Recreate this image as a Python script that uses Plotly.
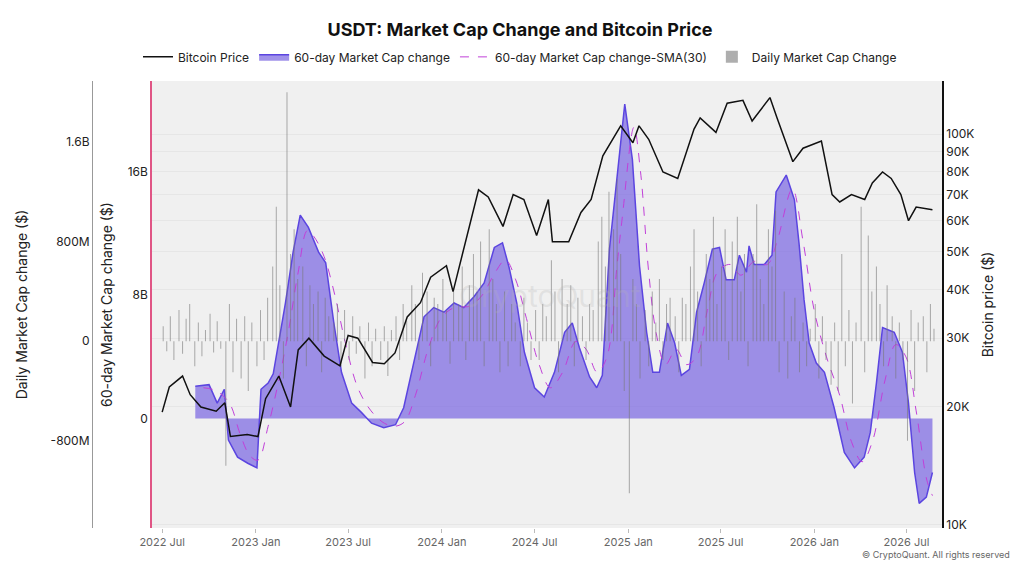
import pandas as pd
import plotly.graph_objects as go

# Bitcoin price (USD)
btc_dates = ["2022-07-01", "2022-07-15", "2022-08-10", "2022-08-25", "2022-09-15", "2022-10-15", "2022-11-01",
             "2022-11-12", "2022-12-15", "2023-01-05", "2023-01-20", "2023-02-15", "2023-03-10", "2023-03-25",
             "2023-04-15", "2023-05-15", "2023-06-15", "2023-07-01", "2023-07-20", "2023-08-18", "2023-09-10",
             "2023-10-01", "2023-10-25", "2023-11-20", "2023-12-10", "2024-01-10", "2024-01-23", "2024-02-15",
             "2024-03-13", "2024-04-01", "2024-04-30", "2024-05-20", "2024-06-10", "2024-07-05", "2024-07-28",
             "2024-08-05", "2024-09-06", "2024-09-30", "2024-10-20", "2024-11-12", "2024-12-17", "2025-01-10",
             "2025-01-22", "2025-02-10", "2025-03-10", "2025-04-08", "2025-05-10", "2025-05-22", "2025-06-22",
             "2025-07-14", "2025-08-14", "2025-09-01", "2025-10-06", "2025-10-20", "2025-11-20", "2025-12-10",
             "2026-01-15", "2026-02-05", "2026-02-20", "2026-03-15", "2026-04-10", "2026-04-25", "2026-05-15",
             "2026-06-01", "2026-06-20", "2026-07-05", "2026-07-20", "2026-08-21"]
btc_price = [19400, 22500, 24000, 21500, 20000, 19500, 20500,
             16800, 17000, 16800, 21000, 24000, 20000, 28000,
             30000, 27000, 25500, 30500, 30000, 26000, 25800,
             27500, 34000, 37000, 43000, 46000, 39500, 52000,
             72000, 69000, 58000, 70000, 68000, 55000, 68000,
             53000, 53000, 63000, 68000, 88000, 105000, 95000,
             105000, 97000, 80000, 77000, 103000, 110000, 101000,
             120000, 122000, 108000, 124000, 110000, 85000, 92000,
             96000, 70000, 67000, 70000, 68000, 75000, 80000,
             77000, 70000, 60000, 65000, 64000]

# 60-day market cap change (USD billions)
mc_dates = ["2022-09-04", "2022-10-01", "2022-10-17", "2022-10-31", "2022-11-08", "2022-11-26", "2022-12-16",
            "2023-01-03", "2023-01-11", "2023-01-25", "2023-02-04", "2023-02-14", "2023-02-28", "2023-03-15",
            "2023-03-29", "2023-04-14", "2023-05-04", "2023-05-18", "2023-06-03", "2023-06-18", "2023-07-08",
            "2023-07-27", "2023-08-16", "2023-09-09", "2023-10-02", "2023-10-18", "2023-11-07", "2023-11-27",
            "2023-12-16", "2024-01-05", "2024-01-25", "2024-02-13", "2024-03-04", "2024-03-24", "2024-04-13",
            "2024-04-29", "2024-05-12", "2024-05-27", "2024-06-11", "2024-07-01", "2024-07-20", "2024-08-09",
            "2024-08-29", "2024-09-13", "2024-09-27", "2024-10-17", "2024-10-31", "2024-11-11", "2024-11-25",
            "2024-12-15", "2024-12-25", "2025-01-09", "2025-01-23", "2025-02-06", "2025-02-18", "2025-03-03",
            "2025-03-19", "2025-04-02", "2025-04-15", "2025-05-01", "2025-05-15", "2025-05-30", "2025-06-15",
            "2025-06-29", "2025-07-12", "2025-07-28", "2025-08-07", "2025-08-21", "2025-08-26", "2025-09-05",
            "2025-09-25", "2025-10-10", "2025-10-18", "2025-11-07", "2025-11-23", "2025-12-02", "2025-12-12",
            "2025-12-22", "2026-01-05", "2026-01-21", "2026-02-09", "2026-03-01", "2026-03-21", "2026-04-09",
            "2026-04-21", "2026-05-03", "2026-05-15", "2026-06-07", "2026-06-23", "2026-07-05", "2026-07-17",
            "2026-07-26", "2026-08-09", "2026-08-21"]
mc_change = [2.1, 2.2, 1.0, 1.9, -1.4, -2.5, -2.9,
             -3.2, 1.9, 2.3, 2.9, 4.8, 7.5, 10.8,
             13.2, 12.4, 10.8, 10.1, 6.2, 3.0, 1.0,
             0.4, -0.3, -0.6, -0.4, 0.7, 3.6, 6.6,
             7.2, 6.9, 7.5, 7.2, 7.9, 8.8, 11.1,
             11.4, 9.8, 7.5, 4.3, 2.0, 1.4, 3.0,
             5.6, 6.2, 4.6, 2.7, 2.0, 2.8, 11.0,
             17.5, 20.4, 16.8, 9.9, 5.6, 3.0, 3.0,
             6.2, 4.9, 2.8, 3.2, 6.9, 8.8, 11.0,
             11.1, 9.0, 9.0, 10.6, 9.5, 11.2, 10.0,
             10.0, 10.6, 14.7, 15.8, 14.2, 11.4, 7.7,
             4.9, 3.6, 3.0, 0.7, -2.2, -3.2, -2.5,
             -0.9, 2.3, 5.9, 5.6, 4.3, 1.0, -3.5,
             -5.5, -5.1, -3.5]

# 60-day market cap change SMA(30) (USD billions)
sma_dates = ["2022-09-20", "2022-10-15", "2022-11-10", "2022-12-01", "2022-12-20", "2023-01-05", "2023-01-25",
             "2023-02-15", "2023-03-05", "2023-03-25", "2023-04-12", "2023-04-25", "2023-05-15", "2023-06-05",
             "2023-06-25", "2023-07-20", "2023-08-15", "2023-09-10", "2023-09-30", "2023-10-20", "2023-11-10",
             "2023-12-05", "2023-12-30", "2024-01-25", "2024-02-25", "2024-03-20", "2024-04-15", "2024-05-05",
             "2024-05-25", "2024-06-15", "2024-07-10", "2024-08-01", "2024-08-25", "2024-09-20", "2024-10-10",
             "2024-11-01", "2024-11-20", "2024-12-10", "2024-12-20", "2025-01-12", "2025-01-25", "2025-02-10",
             "2025-02-25", "2025-03-15", "2025-04-05", "2025-04-25", "2025-05-15", "2025-06-05", "2025-06-25",
             "2025-07-20", "2025-08-10", "2025-09-05", "2025-10-01", "2025-10-20", "2025-11-19", "2025-12-10",
             "2026-01-01", "2026-01-25", "2026-02-20", "2026-03-15", "2026-04-05", "2026-04-25", "2026-05-20",
             "2026-06-10", "2026-06-30", "2026-07-20", "2026-08-10", "2026-08-21"]
sma_change = [2.0, 1.8, 1.0, -1.0, -2.4, -2.7, -0.5,
              2.5, 5.5, 9.5, 12.2, 11.8, 10.5, 8.0,
              5.0, 2.0, 0.5, -0.3, -0.5, -0.2, 1.5,
              4.5, 6.5, 7.2, 7.3, 8.0, 9.5, 10.3,
              9.0, 6.5, 3.5, 2.0, 3.0, 5.0, 4.5,
              3.0, 4.0, 10.0, 13.0, 18.9, 16.0, 9.5,
              5.5, 3.5, 4.5, 3.5, 4.0, 7.0, 9.5,
              10.0, 9.3, 10.2, 10.0, 11.5, 14.9, 11.5,
              7.0, 4.0, 1.5, -1.5, -2.8, -1.5, 2.5,
              4.8, 4.0, 0.5, -4.0, -5.0]

# Daily market cap change (USD millions), four sample days per month
daily_months = pd.date_range("2022-07-01", "2026-08-01", freq="MS")
daily_days = [3, 10, 17, 24]
daily_values = [
    [120, -80, 200, -150], [250, -100, 180, 300], [-200, 150, -120, 90], [220, -90, 160, -60],
    [-1000, 300, -250, 180], [-300, 200, -400, 150],
    [-200, 250, -150, 350], [600, 1080, 450, -300], [2000, 700, 900, 500], [600, -200, 450, 300],
    [400, -250, 350, 200], [150, 300, -200, 250], [-150, 200, -100, 120], [-300, 150, -200, 100],
    [-150, 120, -280, 90], [200, -150, 300, 160], [450, 300, -150, 550], [400, -200, 350, 300],
    [500, 250, -180, 400], [300, 600, -150, 450], [700, 400, 800, -200], [900, 500, 300, -250],
    [400, -200, 300, 150], [-200, 350, 150, -150], [250, -150, 300, 200], [650, 400, -250, 500],
    [300, 450, -200, 350], [200, -150, 300, 250], [800, 1000, 600, 1200], [900, 1300, 700, -400],
    [-1220, 500, 300, -300], [250, -200, 400, 150], [500, -150, 300, 350], [200, -250, 350, 300],
    [600, 900, 400, -200], [700, 500, 1000, 300], [600, 900, -150, 800], [1000, 400, 700, -200],
    [700, 1100, 500, 300], [900, 600, 1050, -250], [400, -300, 200, 350], [-250, 150, -200, 100],
    [300, -300, 200, -150], [-350, 150, -400, 700], [-200, 250, -500, 150], [1080, -250, 850, 400],
    [600, 300, -200, 450], [200, -300, 150, -150], [-800, 250, -400, 150], [200, -250, 300, 100],
]
daily_dates = [m + pd.Timedelta(days=d - 1) for m, row in zip(daily_months, daily_values) for d in daily_days[:len(row)]]
daily_change = [v * 1e6 for row in daily_values for v in row]

font = "Inter, Roboto, sans-serif"
fig = go.Figure()

fig.add_trace(go.Scatter(x=pd.to_datetime(mc_dates), y=[v * 1e9 for v in mc_change], name="60-day Market Cap change",
                         mode="lines", line=dict(color="#5b45e0", width=1.5), fill="tozeroy",
                         fillcolor="rgba(120,100,225,0.7)", yaxis="y", legendrank=2))
fig.add_trace(go.Scatter(x=pd.to_datetime(sma_dates), y=[v * 1e9 for v in sma_change],
                         name="60-day Market Cap change-SMA(30)", mode="lines",
                         line=dict(color="#c040d8", width=1, dash="dash", shape="spline"), yaxis="y", legendrank=3))
fig.add_trace(go.Bar(x=daily_dates, y=daily_change, name="Daily Market Cap Change",
                     marker=dict(color="rgba(120,120,120,0.6)", line_width=0), width=86400000 * 2, yaxis="y2",
                     legendrank=4))
fig.add_trace(go.Scatter(x=pd.to_datetime(btc_dates), y=btc_price, name="Bitcoin Price", mode="lines",
                         line=dict(color="#111111", width=1.5), yaxis="y3", legendrank=1))

fig.update_layout(
    width=1024, height=576,
    margin=dict(l=20, r=20, t=73, b=56),
    paper_bgcolor="white", plot_bgcolor="#f0f0f0",
    font=dict(family=font, size=12, color="#222"),
    title=dict(text="<b>USDT: Market Cap Change and Bitcoin Price</b>", x=0.5, y=0.962, xanchor="center",
               yanchor="middle", font=dict(size=18, color="#111")),
    legend=dict(orientation="h", x=0.5, xanchor="center", y=1.054, yanchor="middle", itemwidth=30,
                font=dict(size=12), bgcolor="rgba(0,0,0,0)"),
    barmode="overlay",
    xaxis=dict(domain=[0.126, 0.929], type="date", range=["2022-06-11", "2026-09-09"], dtick="M6",
               tick0="2022-07-01", tickformat="%Y %b", showgrid=False, ticks="outside", ticklen=4,
               tickcolor="#bbb", tickfont=dict(color="#666", size=11), showline=False, automargin=False),
    yaxis=dict(range=[-7.1e9, 21.9e9], tickvals=[0, 8e9, 16e9], ticktext=["0", "8B", "16B"], showgrid=False,
               zeroline=False, showline=True, linecolor="#e05585", linewidth=1.5, ticks="", automargin=False,
               title=dict(text="60-day Market Cap change ($)", standoff=12)),
    yaxis2=dict(range=[-1.5e9, 2.09e9], tickvals=[-8e8, 0, 8e8, 1.6e9], ticktext=["-800M", "0", "800M", "1.6B"],
                overlaying="y", anchor="free", position=0.065, side="left", showgrid=False, zeroline=False,
                showline=True, linecolor="#999", automargin=False,
                title=dict(text="Daily Market Cap change ($)", standoff=18)),
    yaxis3=dict(type="log", range=[3.991, 5.136], overlaying="y", anchor="x", side="right",
                tickvals=[10000, 20000, 30000, 40000, 50000, 60000, 70000, 80000, 90000, 100000],
                ticktext=["10K", "20K", "30K", "40K", "50K", "60K", "70K", "80K", "90K", "100K"],
                showgrid=True, gridcolor="#e6e6e6", zeroline=False, showline=True, linecolor="#111",
                linewidth=1.5, automargin=False, title=dict(text="Bitcoin price ($)", standoff=10)),
)

fig.add_annotation(text="CryptoQuant", xref="paper", yref="paper", x=0.53, y=0.52, showarrow=False,
                   font=dict(size=30, color="rgba(180,180,180,0.25)"))
fig.add_annotation(text="© CryptoQuant. All rights reserved", xref="paper", yref="paper", x=1.0, y=-0.075,
                   xanchor="right", showarrow=False, font=dict(size=9, color="#666"))

fig.write_html("out.html")
